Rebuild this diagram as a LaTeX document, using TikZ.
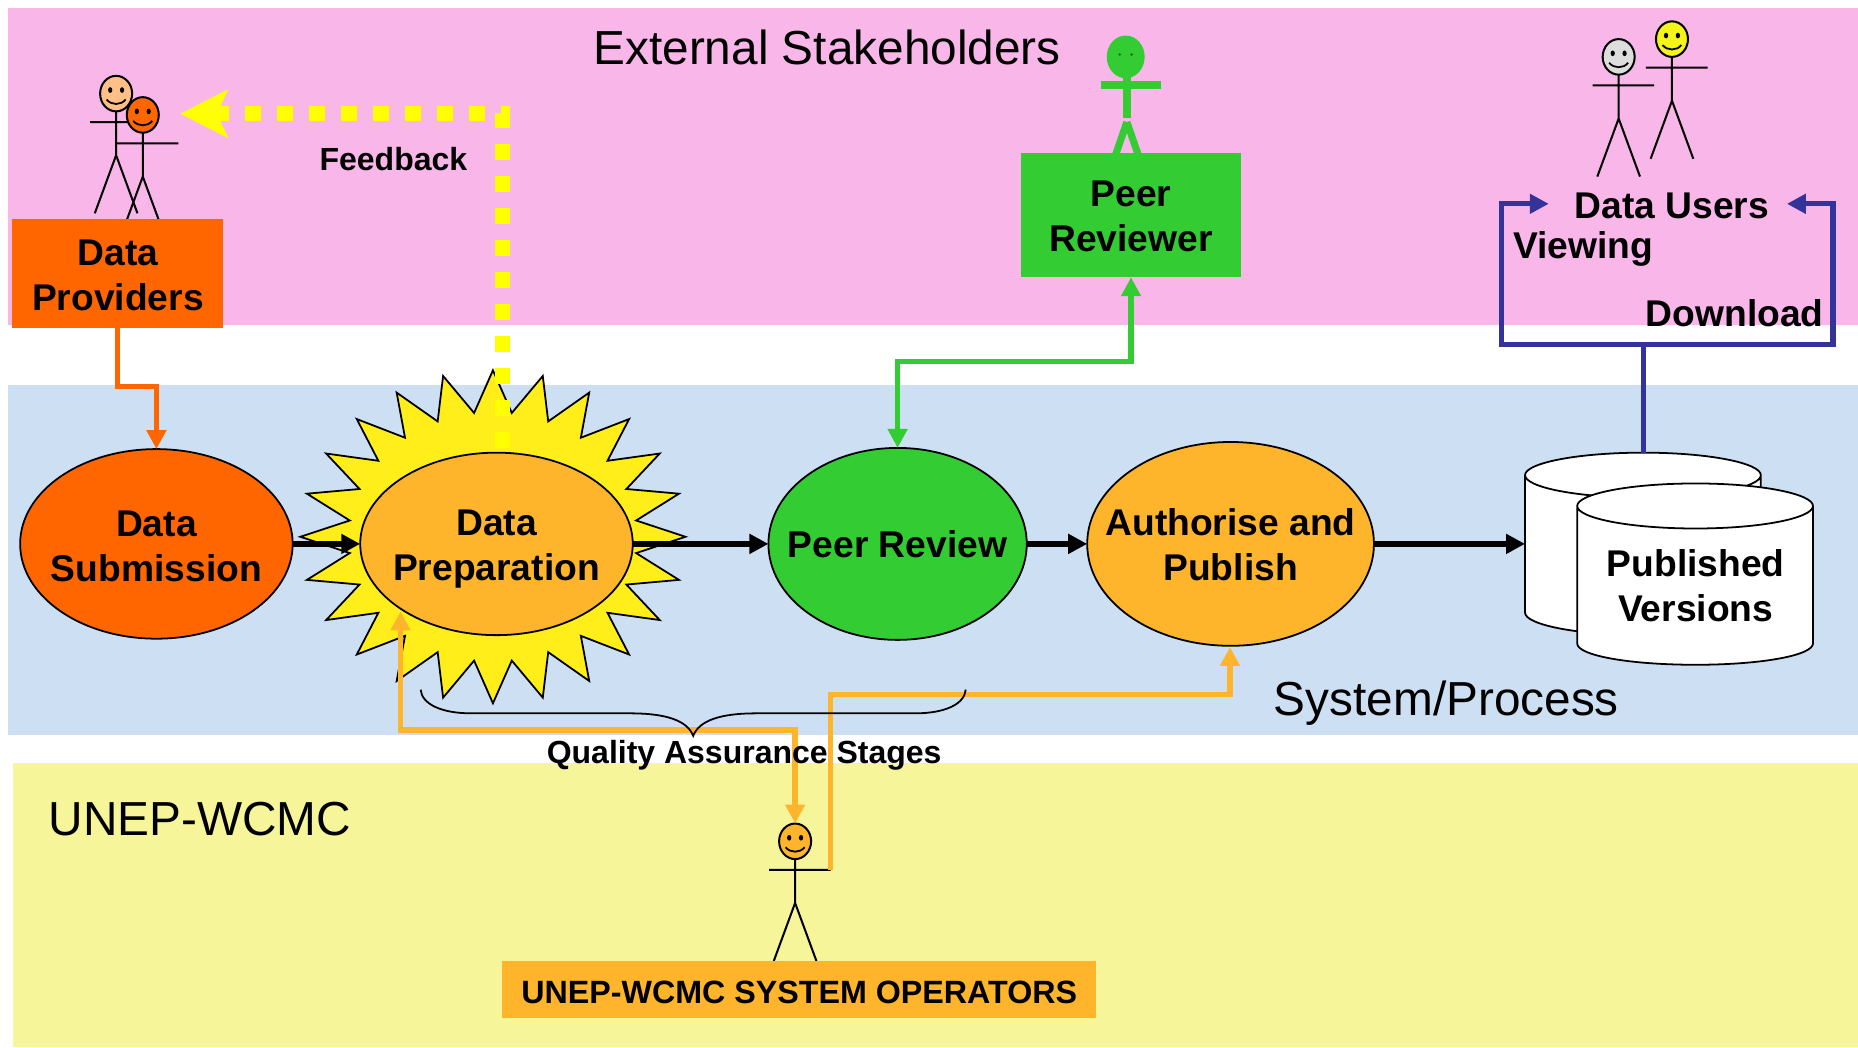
\documentclass[tikz,border=0pt]{standalone}
\usepackage{fontspec}
\setmainfont{Liberation Sans}
\usetikzlibrary{arrows.meta,shapes.geometric}
\definecolor{cpink}{HTML}{F9B6E9}
\definecolor{cblue}{HTML}{CCDFF3}
\definecolor{cyell}{HTML}{F7F59A}
\definecolor{corange}{HTML}{FF6600}
\definecolor{camber}{HTML}{FFB52B}
\definecolor{cgreen}{HTML}{33CC33}
\definecolor{csun}{HTML}{FFEE1A}
\definecolor{cnavy}{HTML}{333399}
\definecolor{cfb}{HTML}{FFFF00}
\definecolor{cgrey}{HTML}{DDDDDD}
\definecolor{cpeach}{HTML}{FFC088}
\definecolor{cface}{HTML}{F4F418}
\tikzset{
  band/.style={draw=none},
  boxed/.style={shape=rectangle,draw=none,inner sep=0pt,outer sep=0pt,align=center,font=\fontsize{31.4}{38}\selectfont\bfseries},
  proc/.style={shape=ellipse,draw=black,line width=1.5pt,inner xsep=-80pt,inner ysep=0pt,outer sep=0pt,align=center,font=\fontsize{31.4}{38}\selectfont\bfseries},
  bold/.style={inner sep=0pt,outer sep=0pt,align=center,font=\fontsize{31.4}{38}\selectfont\bfseries},
  boldsm/.style={inner sep=0pt,outer sep=0pt,font=\fontsize{27}{32}\selectfont\bfseries},
  title/.style={inner sep=0pt,outer sep=0pt,font=\fontsize{40.3}{48}\selectfont},
  flow/.style={line width=4.5pt,-{Triangle[length=16pt,width=16pt]}},
  conn/.style={line width=4.5pt},
  tipc/.style={{Triangle[length=16pt,width=16pt]}-{Triangle[length=16pt,width=16pt]}},
  limb/.style={draw=black,line width=1.7pt},
  cyl/.style={draw=black,line width=1.5pt,fill=white},
}
\newcommand{\stickman}[3]{%
  \begin{scope}[shift={(#1,#2)}]
    \draw[limb] (0,15) -- (0,52) (-22,24) -- (30,24) (0,52) -- (-18,101) (0,52) -- (18,101);
    \draw[draw=black,line width=1.7pt,fill=#3] (0,0) ellipse [x radius=13.5pt,y radius=15pt];
    \fill (-5,-3) ellipse [x radius=1.8pt,y radius=2.4pt] (5,-3) ellipse [x radius=1.8pt,y radius=2.4pt];
    \draw[line width=1.5pt] (-8,5) .. controls (-4,10) and (4,10) .. (8,5);
  \end{scope}}
\newcommand{\topstrut}[1]{\rule{0pt}{#1pt}}
\begin{document}
\begin{tikzpicture}[x=1pt,y=-1pt]
\useasboundingbox (0,0) rectangle (1568,883.6);
% bands
\fill[cpink,band] (7,7) rectangle (1568,274);
\fill[cblue,band] (7,325) rectangle (1568,620);
\fill[cyell,band] (11,644) rectangle (1568,883.6);
% figures
\stickman{98}{79}{cpeach}
\stickman{120.5}{97}{corange}
\stickman{1366}{48}{cgrey}
\stickman{1411}{33}{cface}
\stickman{671}{710}{camber}
% peer reviewer figure
\fill[cgreen] (950,48) ellipse [x radius=16pt,y radius=18pt];
\draw[cgreen,line width=6.5pt] (951,64) -- (951,100) (929,72) -- (980,72);
\draw[cgreen,line width=6pt] (951,103) -- (941,132) (951,103) -- (961,132);
\fill[black!45!cgreen] (945,46) circle (1.2pt) (955,46) circle (1.2pt);
% boxes
\node[boxed,fill=corange,minimum width=178pt,minimum height=92pt] (prov) at (99.5,231) {\topstrut{24}Data\\Providers};
\node[boxed,fill=cgreen,minimum width=185pt,minimum height=105pt] (rev) at (954.5,181.5) {\topstrut{24.5}Peer\\Reviewer};
\node[boxed,fill=camber,minimum width=501pt,minimum height=48pt,font=\fontsize{27.2}{32}\selectfont\bfseries] (ops) at (674.5,835) {\topstrut{24}UNEP-WCMC SYSTEM OPERATORS};
% sun
\draw[draw=black,line width=1.5pt,fill=csun,line join=miter] (578.5,453)
  \foreach \i in {1,...,47}{ -- ({416+162.5*(0.875+0.125*cos(180*\i))*cos(7.5*\i)},{453+140.5*(0.875+0.125*cos(180*\i))*sin(7.5*\i)}) } -- cycle;
% feedback
\coordinate (fbStart) at (424,378);
\coordinate (fbBend) at (424,96);
\coordinate (fbEnd) at (152,96);
\draw[cfb,line width=13pt,dash pattern=on 13.5pt off 13.5pt,-{Stealth[length=40pt,width=40pt,inset=9pt]}] (fbStart) -- (fbBend) -- (fbEnd);
% process ellipses
\node[proc,fill=corange,minimum width=230pt,minimum height=160pt] (sub) at (132,459) {\topstrut{26}Data\\Submission};
\node[proc,fill=camber,minimum width=230pt,minimum height=154pt] (prep) at (419,459) {\topstrut{30}Data\\Preparation};
\node[proc,fill=cgreen,minimum width=218pt,minimum height=162pt] (peer) at (757.5,459) {\topstrut{24}Peer Review};
\node[proc,fill=camber,minimum width=242pt,minimum height=172pt] (auth) at (1038.5,459) {\topstrut{24}Authorise and\\Publish};
% cylinders
\draw[cyl] (1287,401) -- (1287,517) .. controls (1287,527) and (1330,536) .. (1387,536) .. controls (1443,536) and (1486,527) .. (1486,517) -- (1486,401) .. controls (1486,391) and (1443,382) .. (1387,382) .. controls (1330,382) and (1287,391) .. (1287,401) .. controls (1287,411) and (1330,420) .. (1387,420) .. controls (1443,420) and (1486,411) .. (1486,401);
\draw[cyl] (1331,427) -- (1331,543) .. controls (1331,553) and (1374,561) .. (1431,561) .. controls (1487,561) and (1530,553) .. (1530,543) -- (1530,427) .. controls (1530,417) and (1487,408) .. (1431,408) .. controls (1374,408) and (1331,417) .. (1331,427) .. controls (1331,437) and (1374,446) .. (1431,446) .. controls (1487,446) and (1530,437) .. (1530,427);
\node[bold] (pub) at (1431,494) {Published\\Versions};
\coordinate (cylIn) at (1287,459);
\coordinate (cylTop) at (1387,382);
% black flow
\draw[flow] (sub.east) -- (prep.west);
\draw[flow] (prep.east) -- (peer.west);
\draw[flow] (peer.east) -- (auth.west);
\draw[flow] (auth.east) -- (cylIn);
% orange
\coordinate (subBend) at (99,326);
\draw[corange,flow] (prov.south -| subBend) -- (subBend) -| (sub.north);
% green
\coordinate (greenMid) at (855,305);
\draw[cgreen,conn,tipc] (rev.south) |- (greenMid) -| (peer.north);
% navy
\coordinate (dvL) at (1307,172);
\coordinate (dvR) at (1508,172);
\coordinate (dvBL) at (1267,291);
\coordinate (dvBR) at (1547,291);
\coordinate (dvT) at (1387,291);
\draw[cnavy,conn,tipc,line join=miter] (dvL) -| (dvBL) -- (dvBR) |- (dvR);
\draw[cnavy,conn] (cylTop) -- (dvT);
% amber
\coordinate (prepIn) at (338,516);
\coordinate (opIn) at (671,695);
\coordinate (amb1) at (500,616);
\draw[camber,conn,tipc] (prepIn) |- (amb1) -| (opIn);
\coordinate (opArm) at (701,734);
\coordinate (amb2) at (850,586);
\coordinate (authIn) at (1038,546);
\draw[camber,flow] (opArm) |- (amb2) -| (authIn);
% brace
\coordinate (brL) at (355,582);
\coordinate (brTip) at (585,621);
\coordinate (brR) at (815,582);
\draw[black,line width=1.5pt] (brL) .. controls (356,594) and (372,602) .. (398,602) -- (532,602) .. controls (562,602) and (580,608) .. (brTip) .. controls (590,608) and (608,602) .. (638,602) -- (772,602) .. controls (798,602) and (814,594) .. (brR);
% free text
\node[bold] (users) at (1411,174) {Data Users};
\node[bold,anchor=west] (view) at (1277,210) {Viewing};
\node[bold,anchor=east] (down) at (1539,264) {Download};
\node[boldsm] (fb) at (332,134) {Feedback};
\node[boldsm] (qa) at (628,637) {Quality Assurance Stages};
\node[title] (ext) at (698,40) {External Stakeholders};
\node[title,anchor=west] (sys) at (1075,593) {System/Process};
\node[title,anchor=west] (wcmc) at (41,691) {UNEP-WCMC};
\end{tikzpicture}
\end{document}
